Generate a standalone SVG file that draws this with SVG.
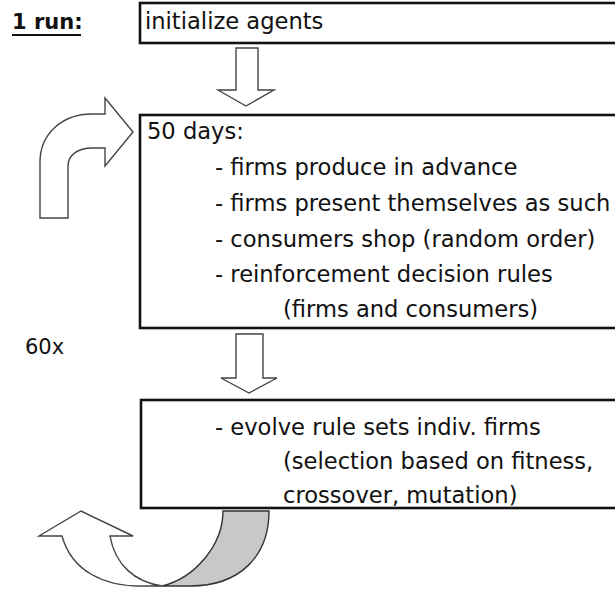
<svg xmlns="http://www.w3.org/2000/svg" width="615" height="590" viewBox="0 0 615 590">
<style>
.box{fill:#fff;stroke:#111;stroke-width:2.6}
.t{font-family:"DejaVu Sans",sans-serif;font-size:22.6px;fill:#111}
.lbl{font-family:"DejaVu Sans",sans-serif;font-size:21px;fill:#111}
.arr{fill:#fff;stroke:#444;stroke-width:1.4;stroke-linejoin:miter}
.grey{fill:#c8c8c8;stroke:#333;stroke-width:1.4}
</style>
<rect width="615" height="590" fill="#fff"/>
<g id="label-run">
<text class="lbl" x="12" y="29" font-weight="bold">1 run:</text>
<line x1="12" y1="35" x2="81" y2="35" stroke="#111" stroke-width="2"/>
</g>
<g id="label-60x">
<text class="lbl" x="25" y="354" font-size="22">60x</text>
</g>
<g id="init">
<rect class="box" x="140" y="3" width="490" height="40"/>
<text class="t" x="145" y="29">initialize agents</text>
</g>
<g id="days">
<rect class="box" x="140" y="115" width="490" height="213"/>
<text class="t" x="147" y="139">50 days:</text>
<text class="t" x="215" y="175">- firms produce in advance</text>
<text class="t" x="215" y="211">- firms present themselves as such</text>
<text class="t" x="215" y="247">- consumers shop (random order)</text>
<text class="t" x="215" y="282">- reinforcement decision rules</text>
<text class="t" x="283" y="317">(firms and consumers)</text>
</g>
<g id="evolve">
<rect class="box" x="141" y="400" width="490" height="108"/>
<text class="t" x="215" y="435">- evolve rule sets indiv. firms</text>
<text class="t" x="283" y="469">(selection based on fitness,</text>
<text class="t" x="283" y="503">crossover, mutation)</text>
</g>
<g id="connectors">
<path class="arr" d="M236,48 L258,48 L258,90 L274,90 L246,106 L218,90 L236,90 Z"/>
<path class="arr" d="M236,334 L263,334 L263,378 L277,378 L249,393 L221,378 L236,378 Z"/>
<path class="arr" d="M40,218 L40,162 C40,134 62,114 92,114 L105,114 L105,98 L133,132 L105,166 L105,148 L92,148 C78,148 68,155 68,166 L68,218 Z"/>
<path class="arr" d="M62,536 C72,572 105,586 140,586 L162,586 C135,582 115,565 110,536 L133,536 L81,511 L39,536 Z"/>
<path class="grey" d="M223,511 L269,511 C269,556 240,586 190,586 L162,586 C195,578 223,545 223,511 Z"/>
</g>
</svg>
